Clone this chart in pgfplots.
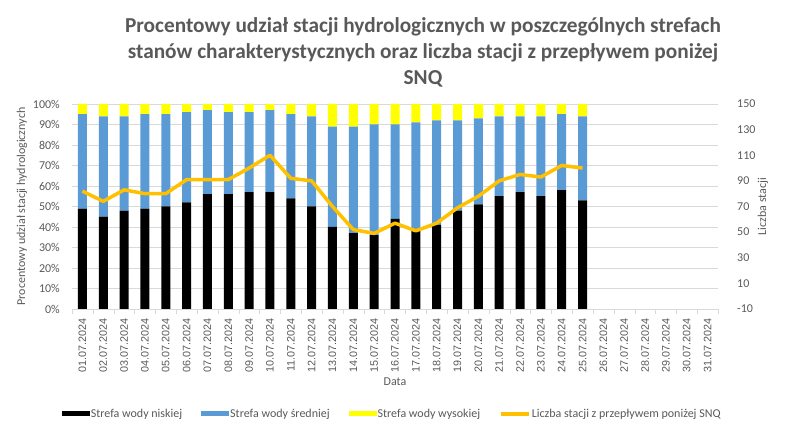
\documentclass[border=0pt]{standalone}
\usepackage{pgfplots}
\pgfplotsset{compat=1.18}
\usepackage{pgfplotstable}
\usepackage{fontspec}
\setmainfont{Carlito}
\newfontfamily\arialf{Liberation Sans}
\definecolor{txt}{HTML}{595959}
\definecolor{grd}{HTML}{D9D9D9}
\definecolor{xblue}{HTML}{5B9BD5}
\definecolor{xyel}{HTML}{FFFF00}
\definecolor{xorg}{HTML}{FFC000}

% d: day, low/mid/high: % of stations, snq: stations below SNQ
\pgfplotstableread{
d low mid high snq
1 49 46 5 82
2 45 49 6 74
3 48 46 6 83
4 49 46 5 80
5 50 45 5 80
6 52 44 4 91
7 56 41 3 91
8 56 40 4 91
9 57 39 4 100
10 57 40 3 110
11 54 41 5 92
12 50 44 6 90
13 40 49 11 70
14 37 52 11 52
15 36 54 10 49
16 44 46 10 57
17 38 53 9 51
18 41 51 8 57
19 48 44 8 69
20 51 42 7 78
21 55 39 6 90
22 57 37 6 95
23 55 39 6 93
24 58 37 5 102
25 53 41 6 100
}\data

\pgfplotsset{
  common/.style={
    at={(72pt,127pt)}, anchor=south west, scale only axis,
    width=646pt, height=205pt, xmin=0.5, xmax=31.5,
    /pgf/number format/assume math mode=true,
    label style={font=\fontsize{12}{14}\selectfont, text=txt},
    ytick style={draw=none},
  },
  barleg/.style={legend image code/.code={\fill[##1] (0pt,-2.5pt) rectangle (28pt,2.5pt);}},
  lineleg/.style={legend image code/.code={\draw[##1] (0pt,0pt) -- (28pt,0pt);}},
}

\begin{document}
\begin{tikzpicture}
\begin{axis}[common,
  ymin=0, ymax=100,
  ybar stacked, bar width=9pt,
  axis x line*=bottom, axis y line*=left,
  y axis line style={draw=none}, x axis line style={grd},
  xtick={1,...,31}, major x tick style={draw=none}, major tick length=0pt,
  minor xtick={0.5,1.5,...,31.5}, minor x tick style={grd}, minor tick length=5pt,
  xtick align=outside,
  xticklabels={01.07.2024,02.07.2024,03.07.2024,04.07.2024,05.07.2024,06.07.2024,07.07.2024,08.07.2024,09.07.2024,10.07.2024,11.07.2024,12.07.2024,13.07.2024,14.07.2024,15.07.2024,16.07.2024,17.07.2024,18.07.2024,19.07.2024,20.07.2024,21.07.2024,22.07.2024,23.07.2024,24.07.2024,25.07.2024,26.07.2024,27.07.2024,28.07.2024,29.07.2024,30.07.2024,31.07.2024},
  xticklabel style={yshift=-9pt, rotate=90, anchor=east, inner sep=0pt,
    font=\arialf\fontsize{10.8}{12}\selectfont, text=txt},
  ytick={0,10,...,100},
  yticklabel={\pgfmathprintnumber{\tick}\%},
  yticklabel style={anchor=east, inner sep=0pt, xshift=-12pt,
    font=\fontsize{12}{14}\selectfont, text=txt},
  ymajorgrids, major grid style={grd},
  xlabel={Data},
  xlabel style={at={(axis description cs:0.5,-0.356)}, anchor=center},
  ylabel={Procentowy udział stacji hydrologicznych},
  ylabel style={at={(axis description cs:-0.0774,0.5)}, anchor=center},
]
\addplot[fill=black, draw=none] table[x=d, y=low]{\data};
\addplot[fill=xblue, draw=none] table[x=d, y=mid]{\data};
\addplot[fill=xyel, draw=none] table[x=d, y=high]{\data};
\end{axis}

\begin{axis}[common,
  ymin=-10, ymax=150,
  axis y line*=right, axis x line=none,
  y axis line style={draw=none},
  ytick={-10,10,...,150}, major tick length=0pt,
  yticklabel style={anchor=west, inner sep=0pt, xshift=19pt,
    font=\fontsize{12}{14}\selectfont, text=txt},
  ylabel={Liczba stacji},
  ylabel style={at={(axis description cs:1.0697,0.5)}, anchor=center},
  legend style={at={(axis description cs:0.495,-0.512)}, anchor=center,
    draw=none, fill=none, font=\fontsize{12}{14}\selectfont, text=txt,
    legend columns=4, inner sep=0pt,
    nodes={inner sep=1pt},
    /tikz/every even column/.append style={column sep=18pt}},
  legend cell align=left,
]
\addlegendimage{barleg, fill=black, draw=none}
\addlegendentry{Strefa wody niskiej}
\addlegendimage{barleg, fill=xblue, draw=none}
\addlegendentry{Strefa wody średniej}
\addlegendimage{barleg, fill=xyel, draw=none}
\addlegendentry{Strefa wody wysokiej}
\addplot[lineleg, xorg, line width=3.5pt, line join=round] table[x=d, y=snq]{\data};
\addlegendentry{Liczba stacji z przepływem poniżej SNQ}
\end{axis}

\node[align=center, text=txt, font=\bfseries\fontsize{21.3}{26}\selectfont]
  at (423pt,384pt) {Procentowy udział stacji hydrologicznych w poszczególnych strefach\\stanów charakterystycznych oraz liczba stacji z przepływem poniżej\\SNQ};

\pgfresetboundingbox
\path (0pt,0pt) rectangle (789pt,436pt);
\end{tikzpicture}
\end{document}
